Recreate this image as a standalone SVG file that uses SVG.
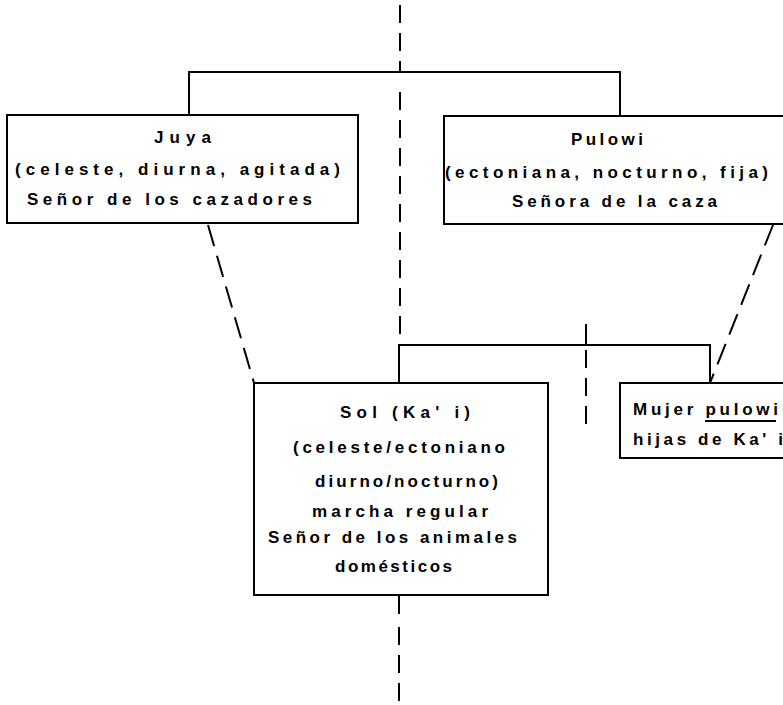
<svg xmlns="http://www.w3.org/2000/svg" width="783" height="705" viewBox="0 0 783 705">
<style>
.box{fill:#fff;stroke:#000;stroke-width:2}
.ln{fill:none;stroke:#000;stroke-width:2}
.dash{fill:none;stroke:#000;stroke-width:2;stroke-dasharray:18 10}
.ddash{fill:none;stroke:#000;stroke-width:2;stroke-dasharray:22 10}
text{font-family:"Liberation Sans",Arial,sans-serif;font-size:17px;font-weight:bold;fill:#000}
</style>
<rect width="783" height="705" fill="#fff"/>
<g id="connectors">
<path class="dash" d="M400,5 V72"/>
<path class="ln" d="M189,115 V72 H620 V116"/>
<path class="dash" d="M400,92 V340"/>
<path class="ln" d="M399,383 V345 H710 V383"/>
<path class="ln" d="M586,324 V345"/>
<path class="dash" d="M586,350 V430"/>
<path class="ln" d="M399,595 V614"/>
<path class="dash" d="M399,627 V705"/>
<path class="ddash" d="M208,225 L254,383"/>
<path class="ddash" d="M773,225 L710,383"/>
</g>
<g id="juya">
<rect class="box" x="7" y="115" width="351" height="108"/>
<text x="154" y="143" textLength="57" lengthAdjust="spacing">Juya</text>
<text x="15" y="175" textLength="325" lengthAdjust="spacing">(celeste, diurna, agitada)</text>
<text x="27" y="205" textLength="285" lengthAdjust="spacing">Señor de los cazadores</text>
</g>
<g id="pulowi">
<rect class="box" x="444" y="116" width="340" height="108"/>
<text x="571" y="145" textLength="72" lengthAdjust="spacing">Pulowi</text>
<text x="445" y="178" textLength="323" lengthAdjust="spacing">(ectoniana, nocturno, fija)</text>
<text x="512" y="207" textLength="205" lengthAdjust="spacing">Señora de la caza</text>
</g>
<g id="sol">
<rect class="box" x="254" y="383" width="294" height="212"/>
<text x="340" y="418" textLength="130" lengthAdjust="spacing">Sol (Ka' i)</text>
<text x="293" y="453" textLength="212" lengthAdjust="spacing">(celeste/ectoniano</text>
<text x="315" y="487" textLength="183" lengthAdjust="spacing">diurno/nocturno)</text>
<text x="312" y="517" textLength="176" lengthAdjust="spacing">marcha regular</text>
<text x="268" y="543" textLength="249" lengthAdjust="spacing">Señor de los animales</text>
<text x="335" y="572" textLength="117" lengthAdjust="spacing">domésticos</text>
</g>
<g id="mujer">
<rect class="box" x="620" y="383" width="170" height="75"/>
<text x="633" y="415" textLength="145" lengthAdjust="spacing">Mujer pulowi</text>
<path class="ln" d="M705,421 H776" stroke-width="1.5"/>
<text x="633" y="445" textLength="150" lengthAdjust="spacing">hijas de Ka' i</text>
</g>
</svg>
